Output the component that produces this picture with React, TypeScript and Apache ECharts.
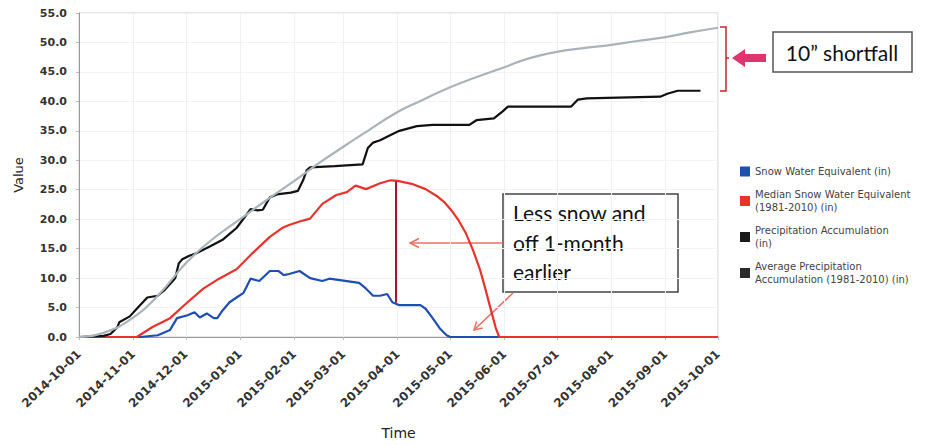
import React, { useEffect, useRef } from "react";
import * as echarts from "echarts";

const TICK_DATES = [
  "2014-10-01", "2014-11-01", "2014-12-01", "2015-01-01", "2015-02-01", "2015-03-01", "2015-04-01",
  "2015-05-01", "2015-06-01", "2015-07-01", "2015-08-01", "2015-09-01", "2015-10-01",
];

const SERIES_NAMES = [
  "Snow Water Equivalent (in)",
  "Median Snow Water Equivalent\n(1981-2010) (in)",
  "Precipitation Accumulation\n(in)",
  "Average Precipitation\nAccumulation (1981-2010) (in)",
];

const SWE_DATES = [
  "2014-10-01", "2014-11-05", "2014-11-15", "2014-11-22", "2014-11-26", "2014-12-02", "2014-12-06",
  "2014-12-09", "2014-12-13", "2014-12-17", "2014-12-19", "2014-12-22", "2014-12-26", "2014-12-30",
  "2015-01-03", "2015-01-07", "2015-01-12", "2015-01-18", "2015-01-23", "2015-01-26", "2015-01-29",
  "2015-02-04", "2015-02-10", "2015-02-17", "2015-02-21", "2015-03-03", "2015-03-10", "2015-03-14",
  "2015-03-18", "2015-03-22", "2015-03-26", "2015-03-29", "2015-04-02", "2015-04-14", "2015-04-17",
  "2015-04-21", "2015-04-25", "2015-04-29", "2015-05-01", "2015-10-01",
];
const SWE_VALUES = [
  0, 0, 0.3, 1.2, 3.2, 3.7, 4.2,
  3.3, 4.0, 3.2, 3.2, 4.5, 5.9, 6.7,
  7.5, 9.9, 9.5, 11.2, 11.2, 10.5, 10.7,
  11.2, 10.0, 9.5, 9.9, 9.5, 9.2, 8.2,
  7.0, 7.0, 7.3, 5.9, 5.4, 5.4, 4.8,
  3.2, 1.5, 0.3, 0, 0,
];

const MEDIAN_DATES = [
  "2014-10-01", "2014-11-03", "2014-11-12", "2014-11-22", "2014-12-02", "2014-12-11", "2014-12-20",
  "2014-12-30", "2015-01-08", "2015-01-18", "2015-01-25", "2015-01-29", "2015-02-04", "2015-02-10",
  "2015-02-17", "2015-02-25", "2015-03-03", "2015-03-08", "2015-03-14", "2015-03-22", "2015-03-28",
  "2015-04-01", "2015-04-09", "2015-04-17", "2015-04-24", "2015-04-28", "2015-05-02", "2015-05-06",
  "2015-05-10", "2015-05-14", "2015-05-18", "2015-05-21", "2015-05-24", "2015-05-27", "2015-05-29",
  "2015-10-01",
];
const MEDIAN_VALUES = [
  0, 0, 1.7, 3.2, 5.9, 8.2, 9.9,
  11.5, 14.2, 17.0, 18.5, 19.0, 19.6, 20.1,
  22.6, 24.1, 24.6, 25.7, 25.1, 26.1, 26.6,
  26.5, 26.0, 25.1, 23.8, 22.8, 21.4, 19.7,
  17.6, 14.8, 11.5, 8.3, 4.9, 1.6, 0,
  0,
];

const PRECIP_DATES = [
  "2014-10-01", "2014-10-15", "2014-10-19", "2014-10-23", "2014-10-24", "2014-10-30", "2014-11-03",
  "2014-11-09", "2014-11-15", "2014-11-19", "2014-11-22", "2014-11-25", "2014-11-27", "2014-11-29",
  "2014-12-03", "2014-12-07", "2014-12-15", "2014-12-22", "2014-12-26", "2014-12-30", "2015-01-04",
  "2015-01-07", "2015-01-11", "2015-01-14", "2015-01-18", "2015-01-22", "2015-01-30", "2015-02-03",
  "2015-02-06", "2015-02-08", "2015-02-10", "2015-02-24", "2015-03-12", "2015-03-15", "2015-03-18",
  "2015-03-22", "2015-03-28", "2015-04-02", "2015-04-12", "2015-04-21", "2015-05-12", "2015-05-16",
  "2015-05-26", "2015-05-31", "2015-06-03", "2015-07-09", "2015-07-13", "2015-07-18", "2015-08-29",
  "2015-09-02", "2015-09-08", "2015-09-21",
];
const PRECIP_VALUES = [
  0, 0.2, 0.5, 1.7, 2.5, 3.5, 4.8,
  6.7, 7.0, 8.0, 9.0, 10.0, 12.5, 13.2,
  13.8, 14.2, 15.4, 16.5, 17.5, 18.5, 20.5,
  21.7, 21.5, 21.6, 23.7, 24.2, 24.5, 24.8,
  26.6, 28.3, 28.8, 29.0, 29.3, 32.1, 33.0,
  33.4, 34.3, 35.0, 35.8, 36.0, 36.0, 36.8,
  37.1, 38.3, 39.1, 39.1, 40.3, 40.5, 40.8,
  41.3, 41.8, 41.8,
];

const AVG_DATES = [
  "2014-10-01", "2014-10-15", "2014-11-01", "2014-11-15", "2014-12-01", "2014-12-15", "2015-01-01",
  "2015-01-15", "2015-02-01", "2015-02-15", "2015-03-01", "2015-03-15", "2015-04-01", "2015-04-15",
  "2015-05-01", "2015-05-15", "2015-06-01", "2015-06-15", "2015-07-01", "2015-07-15", "2015-08-01",
  "2015-08-15", "2015-09-01", "2015-09-15", "2015-10-01",
];
const AVG_VALUES = [
  0, 0.7, 3.3, 7.0, 12.5, 16.3, 20.0,
  23.0, 26.5, 29.5, 32.3, 35.0, 38.2, 40.2,
  42.4, 44.0, 45.8, 47.3, 48.4, 49.0, 49.6,
  50.2, 50.9, 51.7, 52.5,
];

const COLORS = ["#1d4fb2", "#e8322c", "#111111", "#a9b3ba"];
const LEGEND_COLORS = ["#1d4fb2", "#e8322c", "#1a1a1a", "#2a2a2a"];

const toTs = (s: string) => new Date(s + "T00:00:00").getTime();
const pairs = (d: string[], v: number[]) => d.map((x, i) => [toTs(x), v[i]]);
const pad = (n: number) => (n < 10 ? "0" + n : "" + n);
const fmtDate = (ts: number) => {
  const d = new Date(ts);
  return d.getFullYear() + "-" + pad(d.getMonth() + 1) + "-" + pad(d.getDate());
};

export default function App() {
  const ref = useRef<HTMLDivElement>(null);
  useEffect(() => {
    if (!ref.current) return;
    const chart = echarts.init(ref.current, null, { renderer: "svg" });
    const tickTs = TICK_DATES.map(toTs);
    const font = "DejaVu Sans";
    const option: any = {
      animation: false,
      backgroundColor: "#ffffff",
      textStyle: { fontFamily: font },
      grid: { left: 79, top: 13, right: 220, bottom: 102, show: true, borderColor: "#d0d0d0", borderWidth: 1 },
      xAxis: {
        type: "time",
        min: tickTs[0],
        max: tickTs[tickTs.length - 1],
        minInterval: 28 * 86400000,
        maxInterval: 31 * 86400000,
        splitNumber: 12,
        name: "Time",
        nameLocation: "middle",
        nameGap: 89,
        nameTextStyle: { fontSize: 14, color: "#222", fontFamily: font },
        axisLine: { show: true, lineStyle: { color: "#999" } },
        axisTick: { show: true, length: 3, lineStyle: { color: "#bbb" } },
        axisLabel: {
          rotate: 44,
          margin: 15,
          interval: 0,
          fontSize: 12,
          fontWeight: "bold",
          color: "#333",
          fontFamily: font,
          hideOverlap: false,
          showMinLabel: true,
          showMaxLabel: true,
          formatter: (v: number) => fmtDate(v),
        },
        splitLine: { show: true, lineStyle: { color: "#f0f0f0" } },
      },
      yAxis: {
        type: "value",
        min: 0,
        max: 55,
        interval: 5,
        name: "Value",
        nameLocation: "middle",
        nameGap: 54,
        nameTextStyle: { fontSize: 13, color: "#222", fontFamily: font },
        axisLine: { show: true, lineStyle: { color: "#999" } },
        axisTick: { show: true, length: 3, lineStyle: { color: "#bbb" } },
        axisLabel: {
          formatter: (v: number) => v.toFixed(1),
          fontSize: 11,
          fontWeight: "bold",
          color: "#333",
          margin: 12,
          fontFamily: font,
        },
        splitLine: { show: true, lineStyle: { color: "#f3f3f3" } },
      },
      legend: {
        orient: "vertical",
        left: 735,
        top: 160,
        itemWidth: 10,
        itemHeight: 10,
        itemGap: 10,
        icon: "rect",
        textStyle: { fontSize: 10, color: "#444", lineHeight: 13, fontFamily: font },
        data: SERIES_NAMES.map((n, i) => ({ name: n, icon: "rect", itemStyle: { color: LEGEND_COLORS[i] } })),
      },
      series: [
        {
          name: SERIES_NAMES[0], type: "line", showSymbol: false, data: pairs(SWE_DATES, SWE_VALUES),
          lineStyle: { width: 2.2, color: COLORS[0] }, itemStyle: { color: COLORS[0] }, z: 2,
        },
        {
          name: SERIES_NAMES[1], type: "line", showSymbol: false, data: pairs(MEDIAN_DATES, MEDIAN_VALUES),
          lineStyle: { width: 2.2, color: COLORS[1] }, itemStyle: { color: COLORS[1] }, z: 3,
          markLine: {
            silent: true,
            symbol: ["none", "none"],
            label: { show: false },
            lineStyle: { color: "#a3162a", width: 2, type: "solid" },
            data: [[{ coord: [toTs("2015-03-31"), 26.4] }, { coord: [toTs("2015-03-31"), 5.8] }]],
          },
        },
        {
          name: SERIES_NAMES[2], type: "line", showSymbol: false, data: pairs(PRECIP_DATES, PRECIP_VALUES),
          lineStyle: { width: 2.2, color: COLORS[2] }, itemStyle: { color: COLORS[2] }, z: 4,
        },
        {
          name: SERIES_NAMES[3], type: "line", showSymbol: false, smooth: true, data: pairs(AVG_DATES, AVG_VALUES),
          lineStyle: { width: 2.2, color: COLORS[3] }, itemStyle: { color: COLORS[3] }, z: 5,
        },
      ],
      graphic: [
        { type: "polyline", shape: { points: [[720, 27], [726, 27], [726, 91], [720, 91]] }, style: { stroke: "#c0282d", lineWidth: 1.5, fill: "none" } },
        { type: "line", shape: { x1: 726, y1: 58, x2: 729, y2: 58 }, style: { stroke: "#c0282d", lineWidth: 1.5 } },
        {
          type: "polygon",
          shape: { points: [[732, 58], [745, 49], [745, 54], [766, 54], [766, 62], [745, 62], [745, 67]] },
          style: { fill: "#e2336e" },
        },
        { type: "rect", shape: { x: 773, y: 32, width: 139, height: 40 }, style: { fill: "#fff", stroke: "#555", lineWidth: 1.5 } },
        {
          type: "text", x: 842, y: 52,
          style: { text: "10\u201d shortfall", fontSize: 21, fontFamily: "Lato", fill: "#111", align: "center", verticalAlign: "middle" },
        },
        { type: "rect", shape: { x: 503, y: 194, width: 175, height: 98 }, style: { fill: "#fff", stroke: "#444", lineWidth: 1.5 } },
        {
          type: "text", x: 513, y: 242,
          style: {
            text: "Less snow and\noff 1-month\nearlier", fontSize: 21, lineHeight: 29.5, fontFamily: "Lato",
            fill: "#111", align: "left", verticalAlign: "middle",
          },
        },
        { type: "line", shape: { x1: 503, y1: 243, x2: 411, y2: 243 }, style: { stroke: "#e5735f", lineWidth: 1.5 } },
        { type: "polyline", shape: { points: [[419, 238.5], [410, 243], [419, 247.5]] }, style: { stroke: "#e5735f", lineWidth: 1.5, fill: "none" } },
        { type: "line", shape: { x1: 513, y1: 293, x2: 475, y2: 329 }, style: { stroke: "#e5735f", lineWidth: 1.5 } },
        { type: "polyline", shape: { points: [[482.7, 327.9], [474, 330], [476.6, 321.4]] }, style: { stroke: "#e5735f", lineWidth: 1.5, fill: "none" } },
      ],
    };
    chart.setOption(option);
    return () => chart.dispose();
  }, []);
  return <div ref={ref} style={{ position: "fixed", left: 0, top: 0, width: 938, height: 445, background: "#fff" }} />;
}
